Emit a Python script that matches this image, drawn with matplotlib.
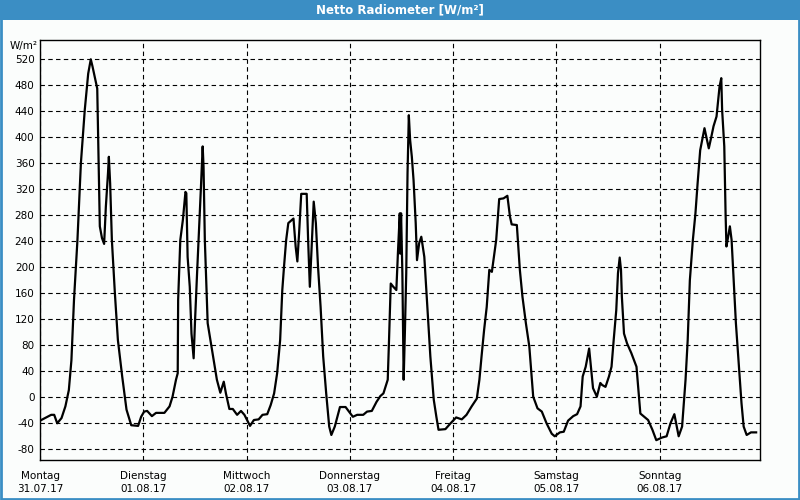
import matplotlib
matplotlib.use("Agg")
import matplotlib.pyplot as plt
from matplotlib.patches import Rectangle

# time in hours since Monday 31.07.17 00:00, net radiation in W/m²
hours = [0, 2.6, 3.3, 4.0, 5.0, 5.9, 6.7, 7.3, 7.9, 8.7, 9.5, 10.4, 11.2, 11.8, 12.2, 13.3,
         13.6, 13.9, 14.4, 14.9, 15.3, 15.8, 16.0, 16.3, 16.7, 17.4, 18.1, 19.1, 20.1, 21.2,
         22.8, 23.5, 24.2,
         24.9, 26.0, 26.96, 28.9, 30.1, 30.8, 31.6, 32.0, 32.1, 32.6, 33.2, 33.8, 34.0, 34.3,
         34.8, 35.2, 35.7, 36.0, 36.5, 37.0, 37.4, 37.8, 38.0, 38.3, 38.96, 40.1, 41.1, 41.9,
         42.7, 43.2, 44.0, 44.8, 45.8, 46.7, 47.5,
         48.8, 49.7, 50.8, 51.7, 52.8, 53.6, 54.4, 55.1, 55.8, 56.3, 56.7, 57.2, 57.7, 58.9,
         59.4, 59.8, 60.2, 60.7, 61.97, 62.3, 62.7, 63.2, 63.6, 64.1, 64.6, 65.2, 65.8, 66.5,
         67.2, 67.7, 68.5, 69.7, 71.0,
         72.7, 73.7, 75.1, 76.0, 77.1, 78.2, 79.1, 79.8, 80.8, 81.1, 81.5, 82.1, 82.8, 83.2,
         83.6, 83.7, 83.9, 84.2, 84.5, 84.8, 85.1, 85.4, 85.7, 86.0, 86.4, 86.8, 87.3, 87.6,
         88.1, 88.6, 89.3, 90.0, 90.7, 91.5, 92.1, 92.6, 94.2, 95.4,
         96.7, 98.0, 99.1, 100.3, 101.5, 102.1, 102.6, 103.2, 103.8, 104.4, 105.0, 106.0,
         106.7, 107.7, 108.6, 109.2, 109.6, 110.8, 111.5, 112.1, 112.9, 113.7, 114.6, 115.6,
         116.6, 117.7, 118.9,
         119.6, 120.8, 121.7, 122.7, 123.9, 124.8, 125.6, 126.1, 126.8, 127.6, 128.1, 128.5,
         129.4, 130.2, 130.6, 131.4, 132.2, 132.8, 133.3, 133.9, 134.3, 134.7, 135.0, 135.2,
         135.7, 136.4, 137.4, 138.6, 139.5, 141.3, 142.3, 143.2,
         144.5, 145.6, 146.5, 147.4, 148.4, 149.2, 150.0, 150.5, 151.0, 151.7, 152.3, 152.8,
         153.4, 154.4, 155.4, 156.0, 156.5, 157.2, 157.9, 158.3, 158.5, 159.0, 159.3, 159.5,
         159.9, 160.3, 160.7, 161.1, 161.7, 162.4, 163.0, 163.5, 164.2, 165.2, 166.4]

values = [-36, -27, -27, -40, -32, -14, 11, 57, 150, 242, 360, 442, 498, 520, 509, 475,
          370, 263, 245, 236, 293, 345, 370, 329, 242, 160, 88, 32, -19, -43,
          -44, -30, -22,
          -21, -29, -24, -24, -14, 1, 27, 37, 150, 242, 273, 316, 314, 216,
          170, 98, 60, 114, 191, 263, 324, 386, 355, 242, 114, 68, 27, 7,
          24, 6, -18, -18, -27, -21, -27,
          -44, -35, -34, -27, -26, -12, 6, 37, 88, 165, 201, 242, 268, 275,
          232, 209, 252, 313, 313, 242, 170, 242, 301, 268, 201, 139, 63, 6,
          -45, -58, -45, -15, -15,
          -30, -27, -27, -22, -21, -7, 2, 6, 27, 88, 175, 170, 165, 227,
          283, 221, 283, 191, 27, 104, 191, 345, 434, 396, 370, 334, 268, 211,
          237, 247, 216, 139, 63, -4, -30, -50, -49, -40,
          -31, -34, -27, -14, -2, 27, 63, 104, 139, 196, 193, 242,
          305, 306, 310, 278, 266, 265, 196, 155, 114, 78, 1, -17,
          -22, -40, -56,
          -60, -54, -53, -36, -29, -26, -14, 32, 47, 75, 42, 14,
          1, 22, 19, 16, 32, 47, 88, 134, 191, 215, 196, 155,
          98, 83, 68, 47, -25, -35, -50, -66,
          -62, -60, -40, -26, -60, -45, 27, 88, 180, 242, 283, 329,
          380, 414, 383, 401, 417, 432, 478, 491, 442, 386, 283, 232,
          247, 263, 242, 191, 114, 47, -9, -45, -58, -54, -54]

day_names = ["Montag", "Dienstag", "Mittwoch", "Donnerstag", "Freitag", "Samstag", "Sonntag"]
day_dates = ["31.07.17", "01.08.17", "02.08.17", "03.08.17", "04.08.17", "05.08.17", "06.08.17"]
y_ticks = list(range(-80, 521, 40))

BLUE = "#3b8ec4"
BG = "#fbfdfc"

fig = plt.figure(figsize=(8, 5), dpi=100, facecolor=BG)

# title bar
fig.patches.append(Rectangle((0, 1 - 20 / 500), 1, 20 / 500, transform=fig.transFigure,
                             facecolor=BLUE, edgecolor="none", zorder=0))
# outer blue frame
fig.patches.append(Rectangle((0.001, 0.002), 0.998, 0.996, transform=fig.transFigure,
                             facecolor="none", edgecolor=BLUE, linewidth=2, zorder=0))
fig.text(0.5, 1 - 10 / 500, "Netto Radiometer [W/m²]", color="white", ha="center",
         va="center", fontsize=8.5, fontweight="bold", family="DejaVu Sans")

ax = fig.add_axes([40 / 800, 40 / 500, 720 / 800, 420 / 500])
ax.set_facecolor(BG)
ax.plot(hours, values, color="black", linewidth=1.6, zorder=3)

ax.set_xlim(0, 167.3)
ax.set_ylim(-96.5, 549.7)

ax.set_yticks(y_ticks)
ax.set_yticklabels([str(v) for v in y_ticks])
ax.set_xticks([24 * i for i in range(7)])
ax.set_xticklabels([f"{n}\n{d}" for n, d in zip(day_names, day_dates)], linespacing=1.3)

ax.tick_params(axis="both", length=0, labelsize=7.5, colors="black")
ax.tick_params(axis="y", pad=4)
ax.tick_params(axis="x", pad=8)

ax.grid(True, color="black", linestyle=(0, (4, 3)), linewidth=0.8, zorder=1)
ax.set_axisbelow(True)
for s in ax.spines.values():
    s.set_color("black")
    s.set_linewidth(1.0)

ax.text(-0.003, 1.0 - 6 / 420, "W/m²", transform=ax.transAxes, ha="right", va="center",
        fontsize=7.5)

fig.savefig("out.png", dpi=100, facecolor=BG)
